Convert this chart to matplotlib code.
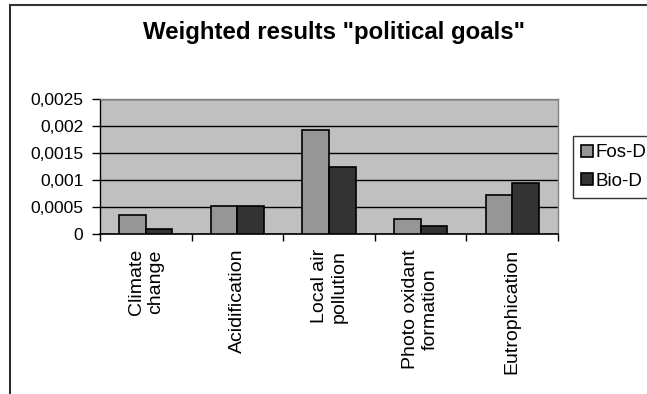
import matplotlib
matplotlib.use("Agg")
import matplotlib.pyplot as plt
import numpy as np
from matplotlib.lines import Line2D
from matplotlib.ticker import FuncFormatter, FixedLocator

plt.rcParams["font.family"] = ["Liberation Sans", "DejaVu Sans"]

categories = ["Climate\nchange", "Acidification", "Local air\npollution",
              "Photo oxidant\nformation", "Eutrophication"]
fos_d = [0.00035, 0.00051, 0.00193, 0.00027, 0.00071]
bio_d = [0.00009, 0.00052, 0.00124, 0.00015, 0.00095]
series_names = ["Fos-D", "Bio-D"]
y_ticks = [0, 0.0005, 0.001, 0.0015, 0.002, 0.0025]

FOS_COLOR = "#969696"
BIO_COLOR = "#333333"
PLOT_BG = "#c0c0c0"

fig = plt.figure(figsize=(6.47, 3.94), dpi=100)
ax = fig.add_axes([0.1546, 0.4068, 0.7078, 0.3419])
ax.set_facecolor(PLOT_BG)

x = np.arange(len(categories)) + 0.5
w = 0.29
ax.bar(x - w / 2, fos_d, w, color=FOS_COLOR, edgecolor="black", linewidth=1.2,
       label=series_names[0], zorder=3)
ax.bar(x + w / 2, bio_d, w, color=BIO_COLOR, edgecolor="black", linewidth=1.2,
       label=series_names[1], zorder=3)

ax.set_xlim(0, len(categories))
ax.set_ylim(0, 0.0025)

# y axis with comma decimals
ax.set_yticks(y_ticks)
ax.yaxis.set_major_formatter(FuncFormatter(
    lambda v, _: "0" if v == 0 else f"{v:.4f}".rstrip("0").replace(".", ",")))
ax.yaxis.grid(True, color="black", linewidth=1, zorder=1)
ax.tick_params(axis="y", direction="out", length=6, width=1, labelsize=12.5, pad=6)

# category boundaries as tick marks, labels at the centres
ax.xaxis.set_major_locator(FixedLocator(np.arange(len(categories) + 1)))
ax.xaxis.set_minor_locator(FixedLocator(x))
ax.set_xticklabels([], minor=False)
ax.set_xticklabels(categories, minor=True, rotation=90, ha="center", va="top",
                   multialignment="center")
ax.tick_params(axis="x", which="major", direction="out", length=5, width=1)
ax.tick_params(axis="x", which="minor", length=0, labelsize=14, pad=11)

ax.spines["left"].set_color("black")
ax.spines["bottom"].set_color("black")
ax.spines["left"].set_linewidth(1)
ax.spines["bottom"].set_linewidth(1.2)
for side in ("top", "right"):
    ax.spines[side].set_color("#808080")
    ax.spines[side].set_linewidth(1)
ax.set_axisbelow(True)

fig.text(0.516, 0.918, 'Weighted results "political goals"', ha="center",
         va="center", fontsize=17.3, fontweight="bold")

leg = fig.legend(loc="upper left", bbox_to_anchor=(573 / 647, 1 - 136 / 394),
                 fontsize=13.5, frameon=True, fancybox=False, edgecolor="black",
                 handlelength=0.6, handleheight=0.6, handletextpad=0.15,
                 borderpad=0.45, labelspacing=0.6, borderaxespad=0)
leg.get_frame().set_linewidth(1)
for h in leg.legend_handles:
    h.set_edgecolor("black")
    h.set_linewidth(1.2)

# outer chart frame (top and left edges visible)
fig.add_artist(Line2D([10 / 647, 10 / 647], [0, 1 - 5 / 394], color="black",
                      linewidth=1.2, transform=fig.transFigure))
fig.add_artist(Line2D([10 / 647, 1], [1 - 5 / 394, 1 - 5 / 394], color="#333333",
                      linewidth=1.5, transform=fig.transFigure))

fig.savefig("out.png", dpi=100)
